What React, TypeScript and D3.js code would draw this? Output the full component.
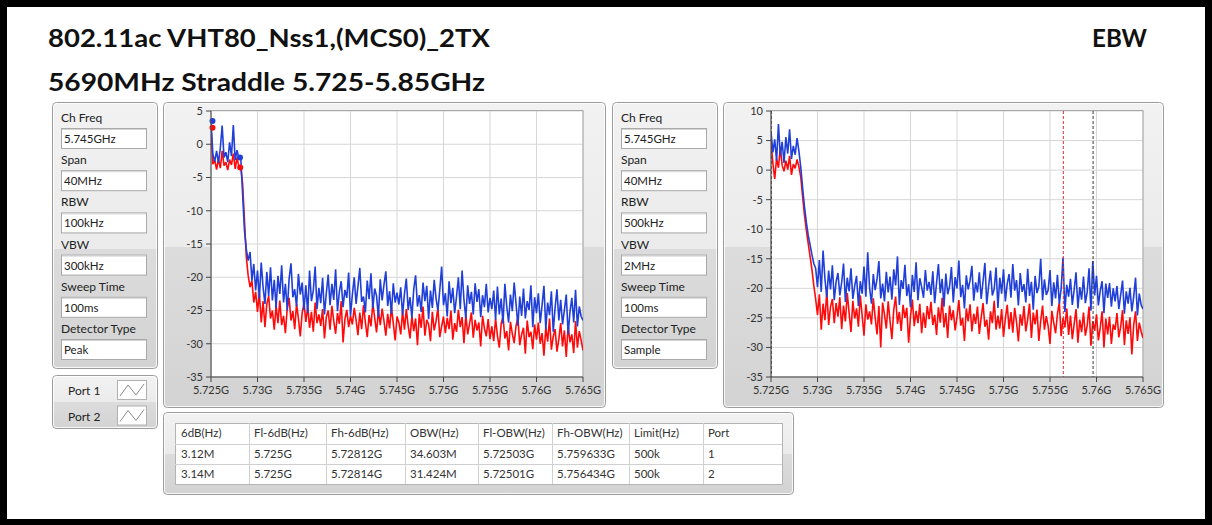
import React from "react";
import * as d3 from "d3";

// ---------- data ----------
const sweepStartGHz = 5.725;
const sweepStepGHz = 0.0002;
const xDomain = [5.725, 5.765];
const xTicks = [5.725, 5.73, 5.735, 5.74, 5.745, 5.75, 5.755, 5.76, 5.765];
const xTickLabels = ["5.725G", "5.73G", "5.735G", "5.74G", "5.745G", "5.75G", "5.755G", "5.76G", "5.765G"];
const leftYTicks = [5, 0, -5, -10, -15, -20, -25, -30, -35];
const rightYTicks = [10, 5, 0, -5, -10, -15, -20, -25, -30, -35];

const settingLabels = ["Ch Freq", "Span", "RBW", "VBW", "Sweep Time", "Detector Type"];
const leftSettings = ["5.745GHz", "40MHz", "100kHz", "300kHz", "100ms", "Peak"];
const rightSettings = ["5.745GHz", "40MHz", "500kHz", "2MHz", "100ms", "Sample"];
const portNames = ["Port 1", "Port 2"];

const tableHeaders = ["6dB(Hz)", "Fl-6dB(Hz)", "Fh-6dB(Hz)", "OBW(Hz)", "Fl-OBW(Hz)", "Fh-OBW(Hz)", "Limit(Hz)", "Port"];
const tableRow1 = ["3.12M", "5.725G", "5.72812G", "34.603M", "5.72503G", "5.759633G", "500k", "1"];
const tableRow2 = ["3.14M", "5.725G", "5.72814G", "31.424M", "5.72501G", "5.756434G", "500k", "2"];

// 6 dB points (GHz, dB) on left (peak) chart
const port1Markers = [[5.725, 3.5], [5.72812, -2.0]];
const port2Markers = [[5.725, 2.5], [5.72814, -3.5]];
// OBW cursors (GHz) on right chart
const port1Cursors = [5.72503, 5.759633];
const port2Cursors = [5.72501, 5.756434];

const leftPort1 = [
  3.5, -1.5, -2.6, -1.0, -2.8, -0.6, 2.8, -2.0, -1.2, -2.7, 0.3, -1.8, 2.9, -2.4, -0.9, -2.2, -2.0,
  -7.5, -13.0, -15.8, -17.5, -16.2, -20.5, -18.0, -22.0,
  -19.0, -23.2, -17.8, -21.5, -24.0, -19.2, -22.8, -18.5, -23.5, -20.4,
  -24.6, -19.8, -22.5, -18.2, -23.8, -21.0, -25.0, -20.2, -17.9, -23.0, -21.8, -24.4, -19.5, -22.6, -20.8, -24.9,
  -21.2, -25.4, -19.0, -23.6, -22.0, -18.4, -24.8, -21.6, -23.9, -20.1, -25.6, -22.4, -19.6, -24.2, -21.0, -23.4, -18.8, -25.1, -22.2, -20.6, -24.5, -21.9, -23.1, -19.3, -25.8,
  -22.6, -20.0, -24.0, -21.4, -18.6, -23.7, -22.9, -25.3, -20.5, -23.3, -19.4, -24.7, -21.7, -22.8, -26.0, -20.3, -23.5, -21.1, -19.1, -24.3, -22.1, -25.5, -20.9, -23.8, -22.3,
  -24.1, -21.5, -25.7, -22.5, -20.2, -24.9, -23.0, -26.1, -21.8, -19.7, -24.4, -22.7, -25.2, -20.8, -23.6, -21.3, -26.3, -22.0, -24.6, -20.4, -23.2, -25.0, -21.9, -18.4, -24.2,
  -22.4, -25.9, -20.6, -23.9, -21.6, -25.4, -22.9, -20.0, -24.8, -19.0, -23.4, -26.2, -21.2, -24.0, -22.2, -25.6, -20.9, -23.7, -21.8, -26.0, -22.7, -24.5, -21.0, -25.3, -23.1,
  -24.8, -22.0, -26.4, -21.4, -25.6, -23.2, -27.0, -21.0, -24.4, -26.8, -22.6, -25.1, -20.8, -24.0, -27.3, -22.9, -25.8, -21.7, -26.2, -23.6, -24.9, -21.2, -27.5, -23.0, -25.4,
  -22.4, -26.9, -24.2, -21.3, -27.8, -23.8, -25.7, -22.1, -28.2, -24.6, -21.8, -26.5, -23.4, -27.1, -24.9, -22.6, -28.6, -25.2, -23.1, -26.8, -21.9, -27.4, -24.4, -25.9, -26.5,
];

const leftPort2 = [
  2.5, -3.0, -2.4, -3.8, -2.2, -3.6, -1.0, -3.2, -2.7, -3.9, -2.3, -3.1, -1.4, -3.7, -2.0, -3.4, -3.5,
  -6.0, -11.5, -17.0, -19.8, -21.5, -20.5, -23.8, -22.2,
  -25.2, -22.4, -26.8, -23.6, -27.5, -24.0, -22.8, -26.2, -25.0, -27.9,
  -24.2, -26.9, -23.5, -27.2, -25.8, -28.4, -24.6, -23.1, -26.5, -25.1, -27.8, -24.0, -26.2, -28.9, -25.4, -23.9,
  -26.7, -24.4, -27.6, -25.2, -28.2, -23.8, -26.9, -25.6, -27.3, -24.8, -29.2, -26.0, -25.0, -27.9, -24.3, -26.6, -28.5, -25.4, -27.0, -23.6, -29.8, -26.3, -24.9, -27.5, -25.8,
  -27.1, -24.6, -26.4, -28.7, -25.3, -27.8, -24.2, -26.8, -29.0, -25.7, -27.4, -23.9, -26.1, -28.3, -25.0, -27.2, -24.7, -26.6, -28.8, -25.5, -27.7, -24.5, -26.9, -29.5, -25.9,
  -26.8, -28.6, -25.1, -27.9, -24.8, -27.3, -29.2, -25.8, -28.1, -26.2, -30.2, -25.5, -27.6, -24.4, -28.8, -26.4, -27.1, -29.6, -25.2, -28.0, -26.6, -24.6, -29.0, -27.4, -25.9,
  -28.4, -26.1, -27.8, -25.0, -29.4, -26.9, -28.2, -24.9, -27.5, -26.0, -29.9, -25.6, -28.6, -27.0, -25.3, -29.1, -26.4, -28.0, -26.8, -30.4, -25.8, -27.7, -28.9, -26.3, -29.3,
  -27.4, -29.6, -26.2, -28.8, -30.6, -27.0, -25.9, -29.2, -28.1, -31.0, -26.7, -28.5, -29.9, -27.3, -26.0, -30.2, -28.6, -27.6, -31.5, -26.5, -29.0, -28.2, -30.8, -27.1, -29.4,
  -26.8, -30.0, -28.4, -31.8, -27.5, -29.7, -26.2, -30.9, -28.9, -27.8, -31.2, -29.3, -26.9, -30.4, -28.0, -32.0, -27.2, -29.8, -28.6, -31.4, -26.6, -30.6, -28.1, -29.5, -31.0,
];

const rightPort1 = [
  6.5, 3.0, 5.2, 1.6, 7.8, 2.4, 4.8, 1.2, 5.6, 2.8, 6.9, 1.9, 4.1, 2.6, 5.4, 3.2,
  0.5, -3.0, -6.2, -8.8, -11.0, -12.6, -14.3, -15.8, -16.6,
  -19.8, -15.2, -20.6, -13.6, -18.4, -21.5, -17.0, -20.2, -16.1, -22.0, -18.9,
  -17.4, -21.2, -19.0, -15.8, -22.3, -18.2, -20.5, -16.6, -21.8, -19.6, -17.9, -23.0, -18.8, -20.9, -16.3, -21.4, -13.9, -19.9, -22.6, -17.6, -20.3, -18.5, -15.4, -21.7, -19.2,
  -22.2, -17.2, -20.7, -18.0, -21.9, -16.8, -19.5, -14.6, -22.8, -18.6, -20.1, -16.0, -21.3, -19.3, -23.2, -17.7, -20.6, -15.6, -22.0, -18.3, -19.8, -21.6, -16.9, -20.4, -18.9,
  -21.1, -17.1, -22.5, -19.1, -15.9, -20.8, -18.4, -23.1, -17.5, -21.0, -19.7, -16.4, -22.4, -18.1, -20.0, -15.3, -21.5, -19.4, -23.4, -17.8, -20.2, -18.7, -16.2, -22.1, -19.0,
  -20.7, -17.3, -21.8, -18.8, -15.7, -22.7, -19.6, -17.0, -21.2, -20.1, -16.5, -23.3, -18.2, -20.9, -16.8, -22.2, -19.2, -17.6, -21.6, -15.9, -20.4, -18.6, -22.9, -17.4, -20.6,
  -19.3, -22.4, -16.7, -21.3, -18.9, -23.6, -17.9, -20.8, -19.7, -15.0, -22.0, -18.5, -21.1, -20.3, -16.9, -23.0, -19.0, -21.7, -17.7, -22.6, -20.0, -14.8, -24.0, -19.4, -21.4,
  -18.4, -22.8, -20.2, -17.3, -23.4, -19.8, -21.9, -18.0, -22.5, -20.6, -16.6, -23.8, -15.4, -21.2, -17.9, -22.9, -20.4, -18.8, -24.2, -19.2, -21.6, -19.1, -23.1, -20.0, -22.2,
  -19.6, -23.5, -21.1, -18.7, -24.3, -20.5, -22.6, -19.9, -23.9, -21.4, -18.2, -24.6, -20.9, -22.8, -23.5,
];

const rightPort2 = [
  4.8, 1.2, -1.5, 2.0, 0.4, 3.8, 0.8, -0.2, 1.6, 0.1, 2.4, -0.8, 1.0, 0.3, 1.8, 0.6,
  -1.2, -4.5, -7.6, -10.2, -12.4, -14.6, -16.8, -19.5, -21.8,
  -24.5, -21.0, -27.0, -22.6, -25.4, -20.4, -26.2, -23.1, -21.8, -25.9, -22.5,
  -24.8, -21.5, -26.9, -22.9, -25.6, -20.8, -24.2, -27.4, -22.1, -25.1, -23.4, -26.5, -21.2, -24.6, -28.0, -22.7, -25.3, -23.9, -26.1, -21.7, -24.9, -27.8, -23.0, -30.0, -22.4,
  -24.4, -26.8, -22.2, -25.5, -28.6, -23.6, -21.4, -26.0, -24.0, -27.2, -22.8, -25.0, -23.3, -29.2, -24.7, -21.9, -26.4, -23.8, -25.9, -22.6, -27.6, -24.1, -26.7, -23.0, -25.2,
  -22.3, -26.2, -24.5, -27.9, -23.2, -25.8, -21.6, -26.6, -24.2, -28.4, -22.9, -25.4, -23.7, -27.1, -24.8, -22.0, -26.3, -25.0, -28.9, -23.4, -25.6, -22.7, -27.3, -24.3, -26.0,
  -23.1, -27.7, -24.9, -22.5, -26.5, -25.3, -28.7, -23.9, -25.9, -22.1, -27.0, -24.6, -26.8, -23.5, -28.2, -25.1, -22.8, -26.9, -24.0, -27.5, -23.3, -25.7, -29.0, -24.4, -26.3,
  -23.0, -27.3, -25.2, -22.6, -28.4, -24.1, -26.1, -23.6, -28.9, -25.5, -22.9, -27.0, -24.7, -26.4, -29.4, -23.8, -25.8, -27.6, -24.3, -22.4, -28.1, -25.0, -26.6, -23.4, -27.9,
  -24.6, -28.6, -26.0, -23.5, -29.2, -25.3, -27.4, -24.1, -28.0, -26.3, -23.1, -29.7, -25.6, -27.2, -24.4, -28.8, -26.7, -23.9, -30.0, -25.1, -27.8, -24.8, -29.4, -26.1, -27.0,
  -24.2, -28.3, -26.5, -23.7, -29.6, -25.4, -27.7, -24.9, -31.2, -26.2, -23.9, -28.9, -25.8, -27.3, -28.4,
];

// ---------- styles ----------
const FONT = "Lato, 'Open Sans', sans-serif";
const BLUE = "#1f3fd8";
const RED = "#ff0a0a";

function Panel({ x, y, w, h, split, id }: any) {
  return (
    <g>
      <defs>
        <linearGradient id={id} x1="0" y1="0" x2="0" y2="1">
          <stop offset="0" stopColor="#f2f2f2" />
          <stop offset={split} stopColor="#ebebeb" />
          <stop offset={split} stopColor="#dcdcdc" />
          <stop offset="1" stopColor="#d3d3d3" />
        </linearGradient>
      </defs>
      <rect x={x + 0.5} y={y + 0.5} width={w} height={h} rx={4} fill={`url(#${id})`} stroke="#9c9c9c" />
      <rect x={x + 1.5} y={y + 1.5} width={w - 2} height={h - 2} rx={3} fill="none" stroke="#ffffff" strokeOpacity={0.8} />
    </g>
  );
}

function Settings({ x, values, id }: any) {
  const y0 = 102;
  return (
    <g fontFamily={FONT} fontSize={12} fill="#222">
      <Panel x={x} y={y0} w={105} h={266} split={0.55} id={id} />
      {settingLabels.map((lab, k) => {
        const ly = 122 + k * 42.2;
        return (
          <g key={lab}>
            <text x={x + 9} y={ly}>{lab}</text>
            <rect x={x + 9.5} y={ly + 6.5} width={85} height={20} fill="#fff" stroke="#a9a9a9" />
            <line x1={x + 10} x2={x + 94} y1={ly + 7.5} y2={ly + 7.5} stroke="#d4d4d4" />
            <text x={x + 12} y={ly + 21} fontSize={11.5}>{values[k]}</text>
          </g>
        );
      })}
    </g>
  );
}

function SpectrumChart({ px, pw, l, r, yDomain, yTicks, s1, s2, markers1, markers2, cursors1, cursors2, id }: any) {
  const t = 111, b = 377, py = 102, ph = 305;
  const x = d3.scaleLinear().domain(xDomain).range([l, r]);
  const y = d3.scaleLinear().domain(yDomain).range([b, t]);
  const line = d3
    .line<number>()
    .x((_, i) => x(sweepStartGHz + i * sweepStepGHz))
    .y((d) => y(d));
  return (
    <g fontFamily={FONT}>
      <Panel x={px} y={py} w={pw} h={ph} split={0.475} id={id + "bg"} />
      <defs>
        <clipPath id={id + "clip"}>
          <rect x={l} y={t} width={r - l} height={b - t} />
        </clipPath>
      </defs>
      <rect x={l} y={t} width={r - l} height={b - t} fill="#ffffff" />
      {xTicks.map((v) => (
        <line key={"gx" + v} x1={x(v)} x2={x(v)} y1={t} y2={b} stroke="#d6d6d6" />
      ))}
      {yTicks.map((v: number) => (
        <line key={"gy" + v} x1={l} x2={r} y1={y(v)} y2={y(v)} stroke="#d6d6d6" />
      ))}
      <rect x={l} y={t - 0.5} width={r - l} height={b - t + 0.5} fill="none" stroke="#a8a8a8" />
      <g clipPath={`url(#${id}clip)`}>
        <path d={line(s2) || ""} fill="none" stroke={RED} strokeWidth={1.6} strokeLinejoin="bevel" />
        <path d={line(s1) || ""} fill="none" stroke={BLUE} strokeWidth={1.6} strokeLinejoin="bevel" />
        {(cursors2 || []).map((c: number, k: number) => (
          <line key={"c2" + k} x1={x(c)} x2={x(c)} y1={t} y2={b} stroke="#e0303a" strokeDasharray="3,2" />
        ))}
        {(cursors1 || []).map((c: number, k: number) => (
          <line key={"c1" + k} x1={x(c)} x2={x(c)} y1={t} y2={b} stroke="#3a3a3a" strokeDasharray="3,2" />
        ))}
      </g>
      {(markers2 || []).map((m: number[], k: number) => (
        <circle key={"m2" + k} cx={x(m[0]) + (k === 0 ? 1.5 : 0)} cy={y(m[1])} r={3} fill={RED} />
      ))}
      {(markers1 || []).map((m: number[], k: number) => (
        <circle key={"m1" + k} cx={x(m[0]) + (k === 0 ? 1.5 : 0)} cy={y(m[1])} r={3} fill={BLUE} />
      ))}
      <line x1={l} x2={l} y1={t} y2={b} stroke="#555" />
      <line x1={l} x2={r} y1={b} y2={b} stroke="#555" />
      {yTicks.map((v: number) => (
        <g key={"ty" + v}>
          <line x1={l - 5} x2={l} y1={y(v)} y2={y(v)} stroke="#444" />
          <text x={l - 8} y={y(v)} dy="0.35em" textAnchor="end" fontSize={11} fill="#333">{v}</text>
        </g>
      ))}
      {xTicks.map((v, k) => (
        <g key={"tx" + v}>
          <line x1={x(v)} x2={x(v)} y1={b} y2={b + 5} stroke="#444" />
          <text x={x(v)} y={b + 17} textAnchor="middle" fontSize={11} fill="#333">{xTickLabels[k]}</text>
        </g>
      ))}
    </g>
  );
}

function PortLegend() {
  const x = 52, y = 375;
  return (
    <g fontFamily={FONT} fontSize={12} fill="#222">
      <Panel x={x} y={y} w={105} h={53} split={0.5} id="portbg" />
      {portNames.map((p, k) => {
        const by = 380 + k * 25.5;
        const bx = 117;
        return (
          <g key={p}>
            <text x={68} y={by + 15}>{p}</text>
            <rect x={bx + 0.5} y={by + 0.5} width={29} height={19} fill="#fff" stroke="#b0b0b0" />
            <polyline
              points={`${bx + 3},${by + 16} ${bx + 11},${by + 5} ${bx + 19},${by + 15} ${bx + 27},${by + 4}`}
              fill="none"
              stroke="#8a8a8a"
            />
          </g>
        );
      })}
    </g>
  );
}

function ResultTable() {
  const cols = [175, 249, 326, 405, 478, 552, 629, 703, 782];
  const rowsY = [423, 444, 464, 484];
  const rows = [tableHeaders, tableRow1, tableRow2];
  const baselines = [437, 458, 478];
  return (
    <g fontFamily={FONT} fontSize={11.5} fill="#333">
      <Panel x={163} y={412} w={630} h={82} split={0.5} id="tablebg" />
      <rect x={cols[0] + 0.5} y={rowsY[0] + 0.5} width={cols[8] - cols[0]} height={rowsY[3] - rowsY[0]} fill="#fff" stroke="#b4b4b4" />
      {rowsY.slice(1, 3).map((ry) => (
        <line key={"r" + ry} x1={cols[0]} x2={cols[8]} y1={ry + 0.5} y2={ry + 0.5} stroke="#d0d0d0" />
      ))}
      {cols.slice(1, 8).map((cx) => (
        <line key={"c" + cx} x1={cx + 0.5} x2={cx + 0.5} y1={rowsY[0]} y2={rowsY[3]} stroke="#d0d0d0" />
      ))}
      {rows.map((row, ri) =>
        row.map((cell, ci) => (
          <text key={ri + "-" + ci} x={cols[ci] + (ci === 0 ? 6 : 5)} y={baselines[ri]}>{cell}</text>
        ))
      )}
    </g>
  );
}

export default function App() {
  return (
    <svg width={1212} height={525} style={{ position: "absolute", left: 0, top: 0, background: "#fff" }}>
      <rect x={0} y={0} width={1212} height={525} fill="#fff" />
      {/* black frame */}
      <rect x={0} y={0} width={1212} height={7} fill="#000" />
      <rect x={0} y={0} width={7} height={525} fill="#000" />
      <rect x={1205} y={0} width={7} height={525} fill="#000" />
      <rect x={0} y={519} width={1212} height={6} fill="#000" />

      <g fontFamily={FONT} fontWeight={700} fill="#111" fontSize={25}>
        <text x={48} y={47} textLength={442} lengthAdjust="spacingAndGlyphs">802.11ac VHT80_Nss1,(MCS0)_2TX</text>
        <text x={48} y={91} textLength={437} lengthAdjust="spacingAndGlyphs">5690MHz Straddle 5.725-5.85GHz</text>
        <text x={1092} y={47} textLength={55} lengthAdjust="spacingAndGlyphs">EBW</text>
      </g>

      <Settings x={52} values={leftSettings} id="setL" />
      <Settings x={612} values={rightSettings} id="setR" />
      <PortLegend />

      <SpectrumChart
        id="chL"
        px={163}
        pw={442}
        l={211}
        r={583}
        yDomain={[-35, 5]}
        yTicks={leftYTicks}
        s1={leftPort1}
        s2={leftPort2}
        markers1={port1Markers}
        markers2={port2Markers}
      />
      <SpectrumChart
        id="chR"
        px={723}
        pw={440}
        l={771}
        r={1143}
        yDomain={[-35, 10]}
        yTicks={rightYTicks}
        s1={rightPort1}
        s2={rightPort2}
        cursors1={port1Cursors}
        cursors2={port2Cursors}
      />

      <ResultTable />
    </svg>
  );
}
